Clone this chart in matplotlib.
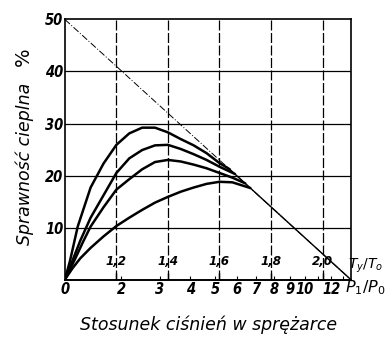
import numpy as np
import matplotlib
matplotlib.use("Agg")
import matplotlib.pyplot as plt

# efficiency curves vs compressor temperature ratio Ty/To
temp_a = [1.0, 1.02, 1.05, 1.1, 1.15, 1.2, 1.25, 1.3, 1.35, 1.4, 1.45, 1.5, 1.55, 1.6, 1.64]
eff_a = [0, 3.6, 10.2, 17.7, 22.3, 25.9, 28.1, 29.2, 29.2, 28.3, 27.0, 25.8, 24.3, 22.4, 21.2]

temp_b = [1.0, 1.03, 1.06, 1.1, 1.15, 1.2, 1.25, 1.3, 1.35, 1.4, 1.45, 1.5, 1.55, 1.6, 1.66]
eff_b = [0, 3.7, 7.5, 11.9, 16.2, 20.5, 23.3, 24.9, 25.8, 25.9, 25.1, 24.1, 23.0, 21.7, 20.3]

temp_c = [1.0, 1.04, 1.07, 1.1, 1.15, 1.2, 1.25, 1.3, 1.35, 1.4, 1.45, 1.5, 1.55, 1.6, 1.65, 1.7]
eff_c = [0, 4.0, 7.2, 10.2, 13.9, 17.3, 19.3, 21.2, 22.6, 23.0, 22.7, 22.1, 21.4, 20.5, 19.6, 18.5]

temp_d = [1.0, 1.03, 1.06, 1.1, 1.15, 1.2, 1.25, 1.3, 1.35, 1.4, 1.45, 1.5, 1.55, 1.6, 1.65, 1.72]
eff_d = [0, 2.2, 4.1, 6.1, 8.3, 10.3, 11.9, 13.4, 14.8, 15.9, 16.9, 17.7, 18.4, 18.8, 18.7, 17.6]

# limiting line and its solid part after the curves join it
limit_temp = [1.0, 2.11]
limit_eff = [50, 0]
solid_temp = [1.64, 2.11]
solid_eff = [21.2, 0]

temp_ticks = [1.2, 1.4, 1.6, 1.8, 2.0]
temp_labels = ["1,2", "1,4", "1,6", "1,8", "2,0"]
press_ticks = [1, 2, 3, 4, 5, 6, 7, 8, 9, 10, 12]
press_labels = ["0", "2", "3", "4", "5", "6", "7", "8", "9", "10", "12"]
press_minor = [11, 13]
eff_ticks = [10, 20, 30, 40, 50]
eff_labels = ["10", "20", "30", "40", "50"]

plt.rcParams["font.family"] = "DejaVu Sans"
num_font = dict(fontstyle="italic", fontweight="bold", fontstretch="condensed")

fig = plt.figure(figsize=(3.86, 3.41), dpi=100)
ax = fig.add_axes([0.168, 0.180, 0.741, 0.763])
ax.set_xlim(1.0, 2.11)
ax.set_ylim(0, 50)

# grid
for y in eff_ticks[:-1]:
    ax.axhline(y, color="black", lw=0.9, zorder=1)
for x in temp_ticks:
    ax.axvline(x, color="black", lw=0.9, ls=(0, (8, 2)), zorder=1)

ax.plot(limit_temp, limit_eff, color="black", lw=0.7, ls=(0, (7, 2, 1, 2)), zorder=2)
ax.plot(solid_temp, solid_eff, color="black", lw=1.0, zorder=3)
for t, e in [(temp_a, eff_a), (temp_b, eff_b), (temp_c, eff_c), (temp_d, eff_d)]:
    ax.plot(t, e, color="black", lw=1.8, solid_capstyle="round", zorder=4)

for s in ax.spines.values():
    s.set_linewidth(1.2)

ax.set_yticks(eff_ticks)
ax.set_yticklabels(eff_labels, fontsize=10.5, **num_font)
ax.tick_params(axis="y", length=0, pad=1)

ax.set_xticks(temp_ticks)
ax.set_xticklabels(temp_labels, fontsize=9.5, **num_font)
ax.tick_params(axis="x", direction="in", length=5, width=1, pad=-18)


def to_press(t):
    return np.abs(t) ** 3.5


def to_temp(p):
    return np.abs(p) ** (1 / 3.5)


sec = ax.secondary_xaxis("bottom", functions=(to_press, to_temp))
sec.set_xticks(press_ticks)
sec.set_xticklabels(press_labels, fontsize=10.5, **num_font)
sec.set_xticks(press_minor, minor=True)
sec.tick_params(axis="x", which="both", direction="in", length=3, width=0.8, pad=2)
sec.spines["bottom"].set_linewidth(1.2)

fig.text(0.948, 0.22, "$T_y/T_o$", fontsize=10, ha="center", va="center")
fig.text(0.947, 0.155, "$P_1/P_0$", fontsize=11.5, ha="center", va="center")

fig.text(0.065, 0.52, "Sprawność cieplna", rotation=90, fontsize=12.5,
         fontstyle="italic", ha="center", va="center")
fig.text(0.06, 0.835, "%", rotation=90, fontsize=14, ha="center", va="center")
fig.text(0.541, 0.047, "Stosunek ciśnień w sprężarce", fontsize=12.5,
         fontstyle="italic", ha="center", va="center")

fig.savefig("out.png", dpi=100)
